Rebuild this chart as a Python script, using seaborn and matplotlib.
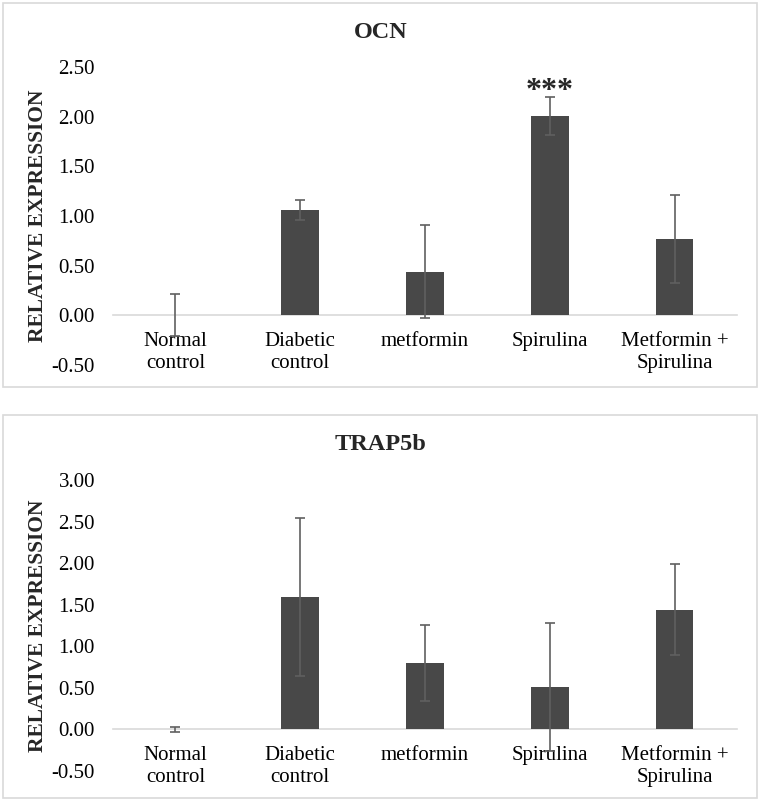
import numpy as np
import pandas as pd
import matplotlib.pyplot as plt
import seaborn as sns
from matplotlib.patches import Rectangle

groups = ["Normal\ncontrol", "Diabetic\ncontrol", "metformin", "Spirulina", "Metformin +\nSpirulina"]

ocn_mean = [0.0, 1.06, 0.44, 2.01, 0.77]
ocn_err = [0.21, 0.10, 0.47, 0.19, 0.44]
ocn_ticks = [-0.5, 0.0, 0.5, 1.0, 1.5, 2.0, 2.5]

trap_mean = [0.0, 1.59, 0.80, 0.51, 1.44]
trap_err = [0.03, 0.95, 0.46, 0.77, 0.55]
trap_ticks = [-0.5, 0.0, 0.5, 1.0, 1.5, 2.0, 2.5, 3.0]

sns.set_style("white")
plt.rcParams["font.family"] = ["Liberation Serif", "DejaVu Serif"]

W, H = 761, 802
fig = plt.figure(figsize=(W / 100, H / 100), dpi=100)

# panel frames
for top, bot in [(3, 387), (415, 798)]:
    fig.patches.append(Rectangle((3 / W, 1 - bot / H), 754 / W, (bot - top) / H,
                                 transform=fig.transFigure, fill=False,
                                 edgecolor="#d9d9d9", lw=1.2))


def panel(ax, means, errs, ticks):
    df = pd.DataFrame({"group": groups, "value": means})
    sns.barplot(data=df, x="group", y="value", color="#484848", saturation=1,
                width=0.3, errorbar=None, linewidth=0, ax=ax)
    ax.errorbar(range(len(groups)), means, yerr=errs, fmt="none", ecolor="#606060",
                elinewidth=1.2, capsize=3.5, capthick=1.2, zorder=3)
    ax.set_xlim(-0.5, len(groups) - 0.5)
    ax.set_ylim(ticks[0], ticks[-1])
    ax.set_yticks(ticks)
    ax.set_yticklabels([f"{t:.2f}" for t in ticks])
    for s in ["top", "right", "left"]:
        ax.spines[s].set_visible(False)
    ax.spines["bottom"].set_position(("data", 0))
    ax.spines["bottom"].set_color("#d9d9d9")
    ax.spines["bottom"].set_linewidth(1.2)
    ax.spines["bottom"].set_zorder(0.5)
    ax.tick_params(axis="both", length=0, labelsize=15, colors="black")
    ax.tick_params(axis="y", pad=13)
    ax.tick_params(axis="x", pad=12)
    for lab in ax.get_xticklabels():
        lab.set_linespacing(1.2)
    ax.set_xlabel("")
    ax.set_ylabel("RELATIVE EXPRESSION", fontsize=15.5, fontweight="bold")
    ax.yaxis.set_label_coords(-0.104, 0.5)
    ax.set_facecolor("none")


ax1 = fig.add_axes([113 / W, 1 - 365 / H, 624 / W, 298 / H])
panel(ax1, ocn_mean, ocn_err, ocn_ticks)
ax1.text(3, ocn_mean[3] + ocn_err[3] + 0.05, "***", ha="center", va="center",
         fontsize=23, fontweight="bold")
fig.text(0.5, 1 - 32 / H, "OCN", ha="center", va="center", fontsize=17.5, fontweight="bold")

ax2 = fig.add_axes([113 / W, 1 - 770.7 / H, 624 / W, 290.7 / H])
panel(ax2, trap_mean, trap_err, trap_ticks)
fig.text(0.5, 1 - 445 / H, "TRAP5b", ha="center", va="center", fontsize=17.5, fontweight="bold")

fig.savefig("out.png", dpi=100, facecolor="white")
